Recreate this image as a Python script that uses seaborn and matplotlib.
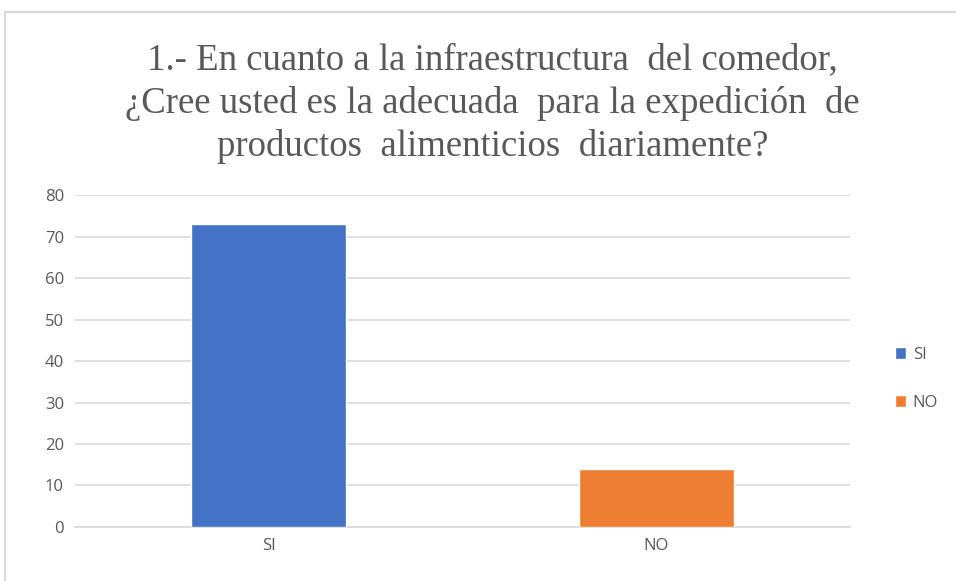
import pandas as pd
import matplotlib.pyplot as plt
import seaborn as sns
from matplotlib.patches import Rectangle, Patch

# Data
categories = ['SI', 'NO']
values = [73, 14]
colors = ['#4472C4', '#ED7D31']

df = pd.DataFrame({'respuesta': categories, 'cantidad': values})

sns.set_style('white')
plt.rcParams['font.family'] = ['Open Sans', 'DejaVu Sans']

fig = plt.figure(figsize=(9.56, 5.81), dpi=100)
ax = fig.add_axes([0.0785, 0.093, 0.8105, 0.571])

sns.barplot(data=df, x='respuesta', y='cantidad', hue='respuesta',
            palette=colors, saturation=1, width=0.4, legend=False, ax=ax, zorder=3)

ax.set_ylim(0, 80)
ax.set_yticks(range(0, 81, 10))
ax.yaxis.grid(True, color='#d9d9d9', linewidth=1.2, zorder=0)
ax.set_axisbelow(True)
ax.set_xlabel('')
ax.set_ylabel('')
for s in ['top', 'right', 'left']:
    ax.spines[s].set_visible(False)
ax.spines['bottom'].set_color('#d9d9d9')
ax.spines['bottom'].set_linewidth(1.2)
ax.tick_params(axis='both', length=0, labelsize=12, colors='#595959', pad=8)

# Title
fig.text(0.515, 0.822, '1.- En cuanto a la infraestructura  del comedor,\n'
         '¿Cree usted es la adecuada  para la expedición  de\n'
         'productos  alimenticios  diariamente?',
         ha='center', va='center', fontsize=26.5, color='#595959',
         family=['Liberation Serif', 'DejaVu Serif'], linespacing=1.3)

# Legend
handles = [Patch(facecolor=c, label=l) for c, l in zip(colors, categories)]
fig.legend(handles=handles, loc='center left', bbox_to_anchor=(0.92, 0.348),
           frameon=False, fontsize=12, handlelength=0.7, handleheight=0.7,
           handletextpad=0.4, labelspacing=1.9, labelcolor='#595959')

# Chart frame
fig.patches.append(Rectangle((0.005, -0.05), 1.1, 1.03, transform=fig.transFigure,
                             fill=False, edgecolor='#d9d9d9', linewidth=1.5))

fig.savefig('out.png', dpi=100)
